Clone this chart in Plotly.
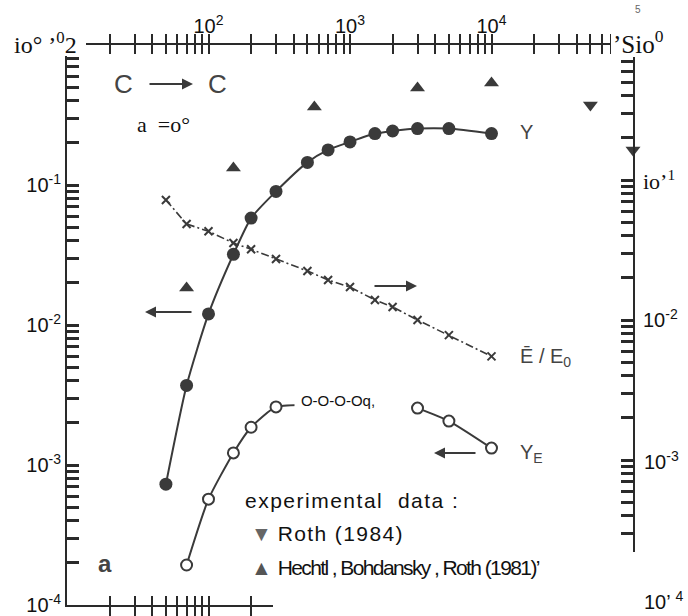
import plotly.graph_objects as go

# ---- data -------------------------------------------------------------
energy_Y = [50, 70, 100, 150, 200, 300, 500, 700, 1000, 1500, 2000, 3000, 5000, 10000]
yield_Y = [7.3e-4, 3.7e-3, 1.2e-2, 3.2e-2, 5.8e-2, 9.0e-2, 0.145, 0.178, 0.203,
           0.233, 0.243, 0.253, 0.253, 0.233]

energy_E = [50, 70, 100, 150, 200, 300, 500, 700, 1000, 1500, 2000, 3000, 5000, 10000]
energy_ratio = [0.072, 0.0485, 0.043, 0.0355, 0.032, 0.0273, 0.0224, 0.0193, 0.0172,
                0.0139, 0.0124, 0.0100, 0.0078, 0.0055]

energy_YE = [70, 100, 150, 200, 300, 500, 700, 1000, None, 3000, 5000, 10000]
yield_YE = [1.93e-4, 5.7e-4, 1.22e-3, 1.86e-3, 2.6e-3, 2.7e-3, 2.8e-3, 2.8e-3, None,
            2.55e-3, 2.06e-3, 1.32e-3]

hechtl_E = [70, 150, 560, 3000, 10000]
hechtl_Y = [0.0184, 0.132, 0.36, 0.493, 0.535]

roth_E = [50000, 100000]
roth_Y = [0.373, 0.178]

x_labels = {100: "10<sup>2</sup>", 1000: "10<sup>3</sup>", 10000: "10<sup>4</sup>"}
y_labels = {1e-1: "10<sup>-1</sup>", 1e-2: "10<sup>-2</sup>",
            1e-3: "10<sup>-3</sup>", 1e-4: "10<sup>-4</sup>"}

# ---- geometry helpers ------------------------------------------------
W, H = 688, 616
ML, MR, MT, MB = 67, 55, 45, 11
PW, PH = W - ML - MR, H - MT - MB


def fx(xp):
    return (xp - ML) / PW


def fy(yp):
    return (H - MB - yp) / PH


def log_ticks(lo, hi, labels):
    """Decade and 2..9 tick positions with text only on labelled decades."""
    vals, text = [], []
    for e in range(lo, hi + 1):
        for m in range(1, 10):
            if e == hi and m > 1:
                break
            v = m * 10.0 ** e
            vals.append(v)
            lab = ""
            for k, t in labels.items():
                if abs(k - v) / v < 1e-6:
                    lab = t
            text.append(lab)
    return vals, text


INK = "#3a3a3a"
AX = "#2a2a2a"

fig = go.Figure()

# Y  (filled circles, left axis)
fig.add_trace(go.Scatter(
    x=energy_Y, y=yield_Y, mode="lines+markers",
    line=dict(color=INK, width=2, shape="spline", smoothing=0.6),
    marker=dict(symbol="circle", size=13, color=INK),
    showlegend=False))

# Y_E (open circles, left axis)
fig.add_trace(go.Scatter(
    x=energy_YE, y=yield_YE, mode="lines+markers", connectgaps=False,
    line=dict(color=INK, width=2, shape="spline", smoothing=0.6),
    marker=dict(symbol="circle", size=11, color="white", line=dict(color=INK, width=2)),
    showlegend=False))

# experimental points
fig.add_trace(go.Scatter(
    x=hechtl_E, y=hechtl_Y, mode="markers",
    marker=dict(symbol="triangle-up", size=13, color=INK),
    showlegend=False, cliponaxis=False))
fig.add_trace(go.Scatter(
    x=roth_E, y=roth_Y, mode="markers",
    marker=dict(symbol="triangle-down", size=13, color=INK),
    showlegend=False, cliponaxis=False))

# mean energy ratio (crosses, right axis)
fig.add_trace(go.Scatter(
    x=energy_E, y=energy_ratio, yaxis="y2", mode="lines+markers",
    line=dict(color=INK, width=1.6, dash="8px,3px,2px,3px"),
    marker=dict(symbol="x-thin", size=8, line=dict(color=INK, width=2)),
    showlegend=False))

tick_font = dict(family="Liberation Sans, Arial", size=20, color="#111")

xv, xt = log_ticks(1, 5, x_labels)
yv, yt = log_ticks(-4, 0, y_labels)
y2v, _ = log_ticks(-4, 0, {})

fig.update_layout(
    width=W, height=H,
    margin=dict(l=ML, r=MR, t=MT, b=MB, pad=0),
    paper_bgcolor="white", plot_bgcolor="white",
    xaxis=dict(
        type="log", range=[1, 5], side="top", showline=True, linecolor=AX, linewidth=2,
        mirror="allticks", ticks="inside", ticklen=9, tickwidth=2, tickcolor=AX,
        tickmode="array", tickvals=xv, ticktext=xt, tickfont=tick_font,
        ticklabelstandoff=2,
        showgrid=False, zeroline=False, automargin=False),
    yaxis=dict(
        type="log", range=[-4, 0], showline=True, linecolor=AX, linewidth=2,
        ticks="inside", ticklen=12, tickwidth=2.5, tickcolor=AX,
        tickmode="array", tickvals=yv, ticktext=yt, tickfont=tick_font,
        showgrid=False, zeroline=False, automargin=False),
    yaxis2=dict(
        type="log", range=[-4.0357, -0.0357], overlaying="y", side="right", anchor="x",
        showline=True, linecolor=AX, linewidth=2,
        ticks="inside", ticklen=12, tickwidth=2.5, tickcolor=AX,
        tickmode="array", tickvals=y2v, showticklabels=False,
        showgrid=False, zeroline=False, automargin=False),
)

# white label boxes over the frame corners and lower right
for x0, y0, x1, y1 in [(6, 22, 86, 56), (611, 20, 688, 57), (273, 552, 688, 616)]:
    fig.add_shape(type="rect", xref="paper", yref="paper",
                  x0=fx(x0), x1=fx(x1), y0=fy(y1), y1=fy(y0),
                  fillcolor="white", line=dict(width=0), layer="above")

SERIF = "Liberation Serif, Times New Roman"
SANS = "Liberation Sans, Arial"


def label(text, xp, yp, size=20, family=SANS, color="#111", xanchor="left", **kw):
    fig.add_annotation(text=text, x=fx(xp), y=fy(yp), xref="paper", yref="paper",
                       xanchor=xanchor, yanchor="middle", showarrow=False,
                       font=dict(family=family, size=size, color=color), **kw)


def arrow(x_head, x_tail, yp):
    fig.add_annotation(x=fx(x_head), y=fy(yp), xref="paper", yref="paper",
                       ax=x_tail - x_head, ay=0, text="", showarrow=True,
                       arrowhead=2, arrowsize=1.1, arrowwidth=2, arrowcolor=INK)


# frame labels on the corners and right side
label("io° ’<sup>0</sup>2", 12, 43, size=24, family=SERIF)
label("’Sio<sup>0</sup>", 611, 42, size=25, family=SERIF)
label("io’<sup>1</sup>", 641, 180, size=22, family=SERIF)
label("10<sup>-2</sup>", 641, 318, size=20)
label("10<sup>-3</sup>", 642, 460, size=20)
label("10’ <sup>4</sup>", 642, 600, size=20)
label("5", 638, 9, size=10, color="#666", xanchor="center")

# panel annotations
label("C", 123, 84, size=26, color="#444", xanchor="center")
label("C", 217, 84, size=26, color="#444", xanchor="center")
arrow(193, 148, 84)
label("a  =o°", 135, 124, size=22, family=SERIF)
label("<b>a</b>", 105, 563, size=24, color="#444", xanchor="center")

# curve labels
label("Y", 518, 132, size=20, color="#444")
label("Ē / E<sub>0</sub>", 518, 357, size=20, color="#444")
label("Y<sub>E</sub>", 518, 453, size=20, color="#444")
label("O-O-O-Oq,", 338, 400, size=15, xanchor="center", bgcolor="white",
      height=24, width=84)

# axis-assignment arrows
arrow(145, 193, 312)
arrow(417, 373, 286)
arrow(434, 477, 453)

# experimental data key
label("<span style='letter-spacing:1.5px'>experimental  data :</span>", 243, 500, size=21)
label("<span style='color:#666'>▼</span> "
      "<span style='letter-spacing:1.4px'>Roth (1984)</span>", 249, 533, size=21)
label("<span style='color:#555'>▲</span> "
      "<span style='letter-spacing:-1.6px'>Hechtl , Bohdansky , Roth (1981)’</span>",
      249, 567, size=21)

fig.write_html("out.html")
